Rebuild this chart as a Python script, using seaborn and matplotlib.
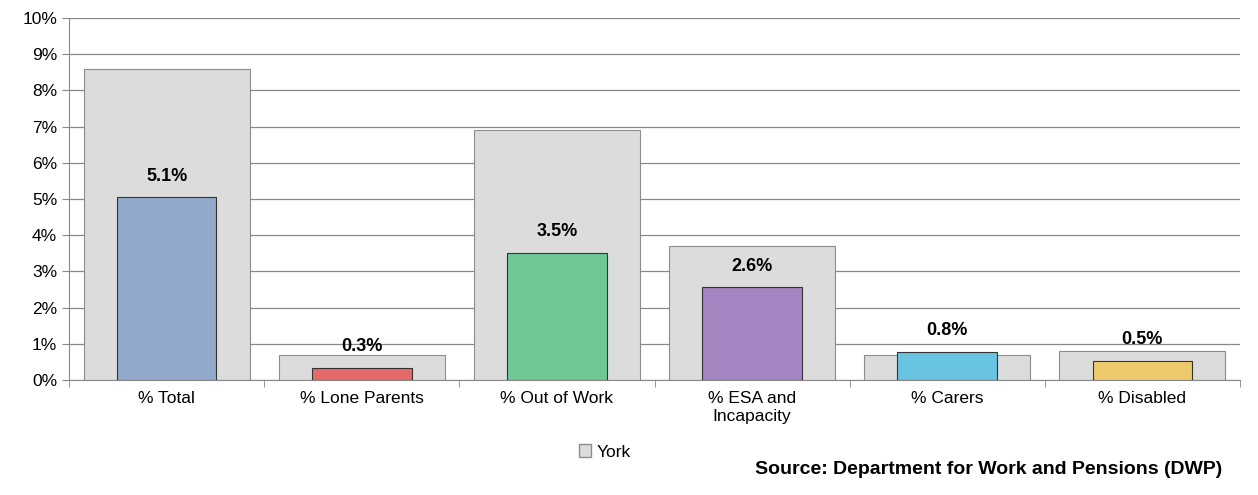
import matplotlib
matplotlib.use("Agg")
import matplotlib.pyplot as plt
import seaborn as sns
import pandas as pd
from matplotlib.patches import Patch

categories = ["% Total", "% Lone Parents", "% Out of Work", "% ESA and\nIncapacity", "% Carers", "% Disabled"]
york = [8.6, 0.7, 6.9, 3.7, 0.7, 0.8]
area = [5.05, 0.33, 3.52, 2.56, 0.78, 0.53]
labels = ["5.1%", "0.3%", "3.5%", "2.6%", "0.8%", "0.5%"]
colors = ["#92a9cb", "#e66a6a", "#6fc896", "#a585c1", "#69c4e2", "#edcb6c"]

sns.set_style("white")
plt.rcParams['font.family'] = ['Liberation Sans', 'DejaVu Sans']
plt.rcParams['text.color'] = 'black'
fig = plt.figure(figsize=(12.58, 4.95), dpi=100)
ax = fig.add_axes([69/1258, 1-380/495, (1240-69)/1258, (380-18)/495])

df = pd.DataFrame({"cat": categories, "york": york, "area": area})
sns.barplot(data=df, x="cat", y="york", color="#dcdcdc", width=0.85, edgecolor="#8c8c8c", linewidth=0.8, ax=ax, saturation=1, zorder=2)
sns.barplot(data=df, x="cat", y="area", hue="cat", palette=colors, width=0.51, edgecolor="#333333", linewidth=0.8, ax=ax, saturation=1, legend=False, zorder=3)
for i, (v, l) in enumerate(zip(area, labels)):
    ax.text(i, v + 0.35, l, ha="center", va="bottom", fontsize=13, fontweight="bold", zorder=4, color="black")

ax.set_ylim(0, 10)
ax.set_xlim(-0.5, 5.5)
ax.set_yticks(range(0, 11))
ax.set_yticklabels([f"{i}%" for i in range(11)], fontsize=12.5, color="black")
ax.set_xticks([i + 0.5 for i in range(-1, 6)], minor=True)
ax.tick_params(axis="x", which="major", labelsize=12.5, length=0, pad=8, labelcolor="black")
ax.tick_params(axis="x", which="minor", length=5, bottom=True, color="#888888")
ax.tick_params(axis="y", length=5, left=True, color="#888888")
ax.yaxis.grid(True, color="#888888", linewidth=0.9, zorder=0)
ax.set_axisbelow(True)
ax.set_xlabel(""); ax.set_ylabel("")
for s in ["top", "right"]:
    ax.spines[s].set_visible(False)
ax.spines["left"].set_color("#888888")
ax.spines["bottom"].set_color("#888888")

fig.legend(handles=[Patch(facecolor="#dcdcdc", edgecolor="#8c8c8c", label="York")],
           loc="center", bbox_to_anchor=(605/1258, 1-452/495), frameon=False, fontsize=12.5,
           handlelength=0.7, handleheight=0.7, handletextpad=0.3)
fig.text(755/1258, 1-470/495, "Source: Department for Work and Pensions (DWP)", fontsize=14,
         fontweight="bold", va="center", ha="left", color="black")
fig.savefig("out.png", dpi=100)
